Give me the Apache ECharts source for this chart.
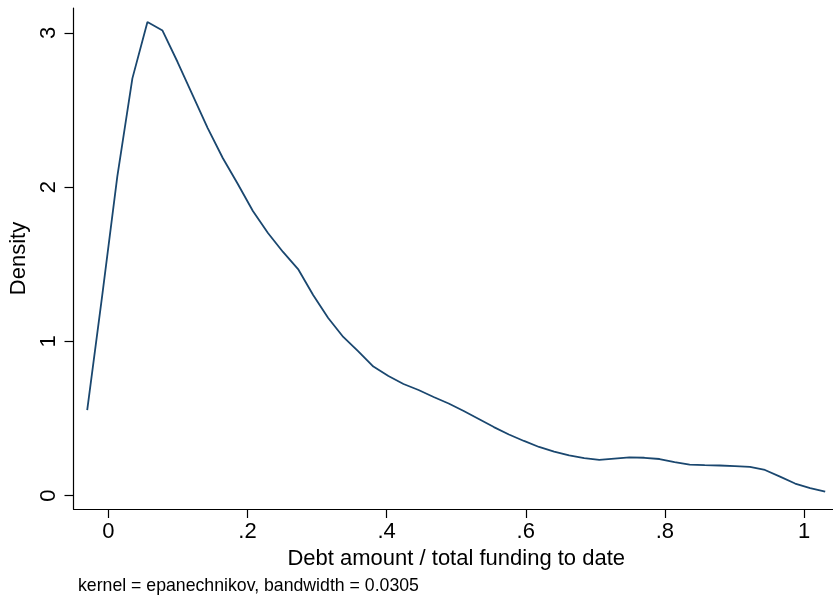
<!DOCTYPE html>
<html>
<head>
<meta charset="utf-8">
<script src="https://cdn.jsdelivr.net/npm/echarts@6/dist/echarts.min.js"></script>
<style>
  html, body { margin: 0; padding: 0; background: #fff; }
  #chart { width: 833px; height: 597px; }
</style>
</head>
<body>
<div id="chart"></div>
<script>
// Kernel density estimate: 50 evaluation points between -0.0305 and 1.0305
const gridStart = -0.0305;
const gridStep = 0.021653;
const density = [
  0.555, 1.300, 2.070, 2.705, 3.070, 3.015, 2.811, 2.597, 2.383, 2.189,
  2.020, 1.845, 1.703, 1.580, 1.469, 1.301, 1.152, 1.029, 0.935, 0.837,
  0.776, 0.724, 0.685, 0.640, 0.598, 0.549, 0.497, 0.445, 0.397, 0.355,
  0.316, 0.286, 0.261, 0.244, 0.233, 0.241, 0.248, 0.246, 0.238, 0.218,
  0.201, 0.198, 0.196, 0.192, 0.187, 0.167, 0.124, 0.079, 0.050, 0.026
];
const xTicks = [0, 0.2, 0.4, 0.6, 0.8, 1];
const yTicks = [0, 1, 2, 3];
const xTitle = 'Debt amount / total funding to date';
const yTitle = 'Density';
const noteText = 'kernel = epanechnikov, bandwidth = 0.0305';

const points = density.map((d, i) => [gridStart + i * gridStep, d]);

// Stata-style tick labels: drop the leading zero (".2")
function stataNum(v) {
  const s = String(Math.round(v * 1000) / 1000);
  return s.replace(/^0\./, '.');
}

const FONT = '"Liberation Sans", Arial, sans-serif';
const axisColor = '#000';

const chart = echarts.init(document.getElementById('chart'), null, { renderer: 'canvas' });
chart.setOption({
  animation: false,
  backgroundColor: '#ffffff',
  grid: {
    left: 73.5, right: 0, top: 8, bottom: 88,
    containLabel: false, outerBoundsMode: 'none'
  },
  xAxis: {
    type: 'value',
    min: -0.0502,
    max: 1.0417,
    name: xTitle,
    nameLocation: 'middle',
    nameGap: 37,
    nameTextStyle: { fontFamily: FONT, fontSize: 22, color: '#000', padding: [0, 0, 0, 6] },
    axisLine: { show: true, onZero: false, lineStyle: { color: axisColor, width: 1.2 } },
    axisTick: { show: true, length: 9, lineStyle: { color: axisColor, width: 1.2 }, customValues: xTicks },
    axisLabel: {
      margin: 12, fontFamily: FONT, fontSize: 22, color: '#000',
      customValues: xTicks, formatter: stataNum
    },
    splitLine: { show: false }
  },
  yAxis: {
    type: 'value',
    min: -0.086,
    max: 3.161,
    name: yTitle,
    nameLocation: 'middle',
    nameGap: 41,
    nameRotate: 90,
    nameTextStyle: { fontFamily: FONT, fontSize: 22, color: '#000' },
    axisLine: { show: true, onZero: false, lineStyle: { color: axisColor, width: 1.2 } },
    axisTick: { show: true, length: 9, lineStyle: { color: axisColor, width: 1.2 }, customValues: yTicks },
    axisLabel: {
      margin: 14, rotate: 90, fontFamily: FONT, fontSize: 22, color: '#000',
      customValues: yTicks, formatter: stataNum
    },
    splitLine: { show: false }
  },
  series: [{
    type: 'line',
    data: points,
    showSymbol: false,
    smooth: false,
    lineStyle: { color: '#1a476f', width: 1.8 },
    itemStyle: { color: '#1a476f' }
  }],
  graphic: [{
    type: 'text',
    left: 78,
    top: 577,
    style: { text: noteText, font: '17.7px ' + FONT, fill: '#000' }
  }]
});
</script>
</body>
</html>
